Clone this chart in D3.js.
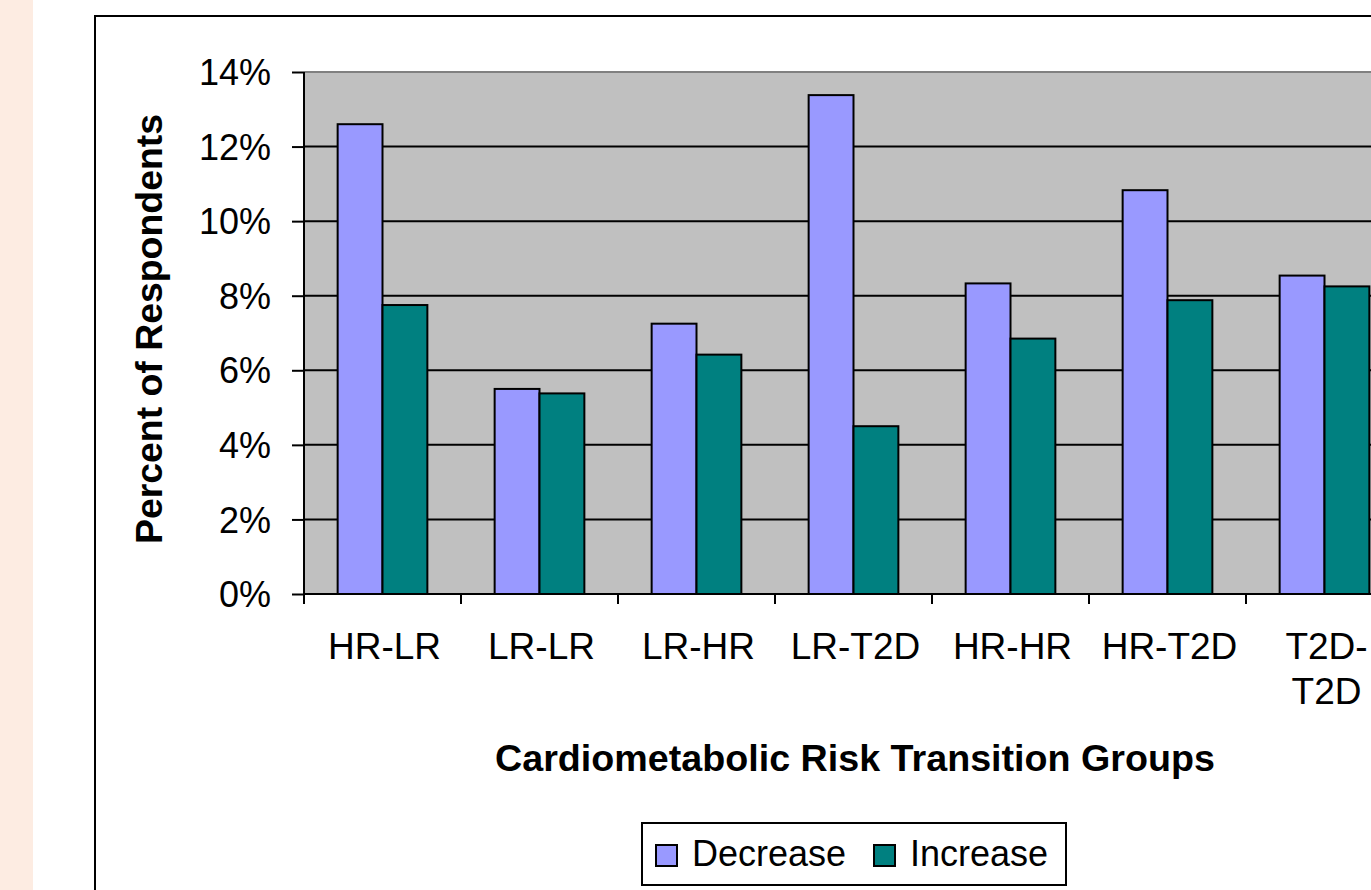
<!DOCTYPE html>
<html>
<head>
<meta charset="utf-8">
<script src="https://cdn.jsdelivr.net/npm/d3@7"></script>
<style>
    body { margin: 0; background: #ffffff; }
    svg { display: block; }
    text { font-family: Arial, "Liberation Sans", sans-serif; fill: #000; }
</style>
</head>
<body>
<div id="chart"></div>
<script>
// data (percent of respondents)
var categories = ["HR-LR", "LR-LR", "LR-HR", "LR-T2D", "HR-HR", "HR-T2D", "T2D-T2D"];
var seriesNames = ["Decrease", "Increase"];
var decreaseValues = [12.6, 5.5, 7.25, 13.38, 8.33, 10.83, 8.54];
var increaseValues = [7.75, 5.38, 6.42, 4.5, 6.85, 7.88, 8.25];
var yTicks = [0, 2, 4, 6, 8, 10, 12, 14];

var seriesColors = { "Decrease": "#9999ff", "Increase": "#008080" };

// set the dimensions and margins of the graph
var vMargin = { mTop: 72, mLeft: 304 },
    vHeight = 594 - vMargin.mTop,
    vStep = 157,
    vWidth = vStep * categories.length;

var vData = categories.map(function (aCat, i) {
    return { cat: aCat, values: { "Decrease": decreaseValues[i], "Increase": increaseValues[i] } };
});

var root = d3.select("#chart")
    .append("svg")
    .attr("width", 1371)
    .attr("height", 890);

// peach strip on the left of the slide
root.append("rect")
    .attr("x", 0).attr("y", 0)
    .attr("width", 33).attr("height", 890)
    .attr("fill", "#fdece2");

// chart frame
root.append("rect")
    .attr("x", 95).attr("y", 16)
    .attr("width", 1700).attr("height", 1000)
    .attr("fill", "#ffffff")
    .attr("stroke", "#000")
    .attr("stroke-width", 2);

var svg = root.append("g")
    .attr("transform", "translate(" + vMargin.mLeft + "," + vMargin.mTop + ")");

// scales
var vXAxis = d3.scaleBand()
    .domain(categories)
    .range([0, vWidth])
    .padding(0);

var vXInner = d3.scaleBand()
    .domain(seriesNames)
    .range([0, vXAxis.bandwidth()])
    .paddingInner(0)
    .paddingOuter(0.75);

var vYAxis = d3.scaleLinear()
    .domain([0, 14])
    .range([vHeight, 0]);

// plot area
svg.append("rect")
    .attr("x", 0).attr("y", 0)
    .attr("width", vWidth).attr("height", vHeight)
    .attr("fill", "#c0c0c0");

svg.append("line")
    .attr("x1", 0).attr("x2", vWidth)
    .attr("y1", 0).attr("y2", 0)
    .attr("stroke", "#808080")
    .attr("stroke-width", 2);

// gridlines
svg.append("g")
    .selectAll("line")
    .data(yTicks.filter(function (d) { return d > 0 && d < 14; }))
    .enter()
    .append("line")
    .attr("x1", 0).attr("x2", vWidth)
    .attr("y1", function (d) { return vYAxis(d); })
    .attr("y2", function (d) { return vYAxis(d); })
    .attr("stroke", "#000")
    .attr("stroke-width", 2);

// bars
var groups = svg.append("g")
    .selectAll("g")
    .data(vData)
    .enter()
    .append("g")
    .attr("transform", function (d) { return "translate(" + vXAxis(d.cat) + ",0)"; });

groups.selectAll("rect")
    .data(function (d) {
        return seriesNames.map(function (s) { return { key: s, value: d.values[s] }; });
    })
    .enter()
    .append("rect")
    .attr("x", function (d) { return vXInner(d.key); })
    .attr("y", function (d) { return vYAxis(d.value); })
    .attr("width", vXInner.bandwidth())
    .attr("height", function (d) { return vHeight - vYAxis(d.value); })
    .attr("fill", function (d) { return seriesColors[d.key]; })
    .attr("stroke", "#000")
    .attr("stroke-width", 2);

// Y axis
var gY = svg.append("g")
    .call(d3.axisLeft(vYAxis)
        .tickValues(yTicks)
        .tickSize(12)
        .tickPadding(21)
        .tickFormat(function (d) { return d + "%"; }));
gY.select(".domain").attr("stroke", "#000").attr("stroke-width", 2)
    .attr("d", "M0,0V" + vHeight);
gY.selectAll(".tick line").attr("stroke", "#000").attr("stroke-width", 2);
gY.selectAll(".tick text")
    .style("font-size", "36px")
    .attr("dy", "0.35em");

// X axis: ticks sit on the category boundaries
var vBounds = categories.map(function (c) { return vXAxis(c); }).concat([vWidth]);
var gX = svg.append("g")
    .attr("transform", "translate(0," + vHeight + ")");
gX.append("line")
    .attr("x1", 0).attr("x2", vWidth)
    .attr("stroke", "#000").attr("stroke-width", 2);
gX.selectAll("line.tk")
    .data(vBounds)
    .enter()
    .append("line")
    .attr("class", "tk")
    .attr("x1", function (d) { return d; })
    .attr("x2", function (d) { return d; })
    .attr("y1", 0).attr("y2", 10)
    .attr("stroke", "#000").attr("stroke-width", 2);

var labels = gX.selectAll("text.lbl")
    .data(categories)
    .enter()
    .append("text")
    .attr("class", "lbl")
    .attr("x", function (d) { return vXAxis(d) + vXAxis.bandwidth() / 2 + 2; })
    .attr("y", 65)
    .attr("text-anchor", "middle")
    .style("font-size", "37px")
    .text(function (d) { return d; });

// wrap labels that don't fit with some room (split after the hyphen)
labels.each(function (d) {
    var t = d3.select(this);
    if (this.getComputedTextLength() > vXAxis.bandwidth() - 17) {
        var cut = d.indexOf("-") + 1;
        var vX = t.attr("x");
        t.text(null);
        t.append("tspan").attr("x", vX).text(d.slice(0, cut));
        t.append("tspan").attr("x", vX).attr("dy", 45).text(d.slice(cut));
    }
});

// axis titles
root.append("text")
    .attr("transform", "translate(162,329) rotate(-90)")
    .attr("text-anchor", "middle")
    .attr("textLength", 430)
    .attr("lengthAdjust", "spacingAndGlyphs")
    .style("font-size", "37px")
    .style("font-weight", "bold")
    .text("Percent of Respondents");

root.append("text")
    .attr("x", 855)
    .attr("y", 771)
    .attr("text-anchor", "middle")
    .attr("textLength", 720)
    .attr("lengthAdjust", "spacingAndGlyphs")
    .style("font-size", "36px")
    .style("font-weight", "bold")
    .text("Cardiometabolic Risk Transition Groups");

// legend
var legend = root.append("g");
legend.append("rect")
    .attr("x", 642).attr("y", 823)
    .attr("width", 424).attr("height", 62)
    .attr("fill", "#fff")
    .attr("stroke", "#000")
    .attr("stroke-width", 2);

var vLegendX = { "Decrease": 656, "Increase": 874 };
seriesNames.forEach(function (s) {
    legend.append("rect")
        .attr("x", vLegendX[s]).attr("y", 845)
        .attr("width", 21).attr("height", 21)
        .attr("fill", seriesColors[s])
        .attr("stroke", "#000")
        .attr("stroke-width", 2);
    legend.append("text")
        .attr("x", vLegendX[s] + 36)
        .attr("y", 866)
        .style("font-size", "36px")
        .text(s);
});
</script>
</body>
</html>
